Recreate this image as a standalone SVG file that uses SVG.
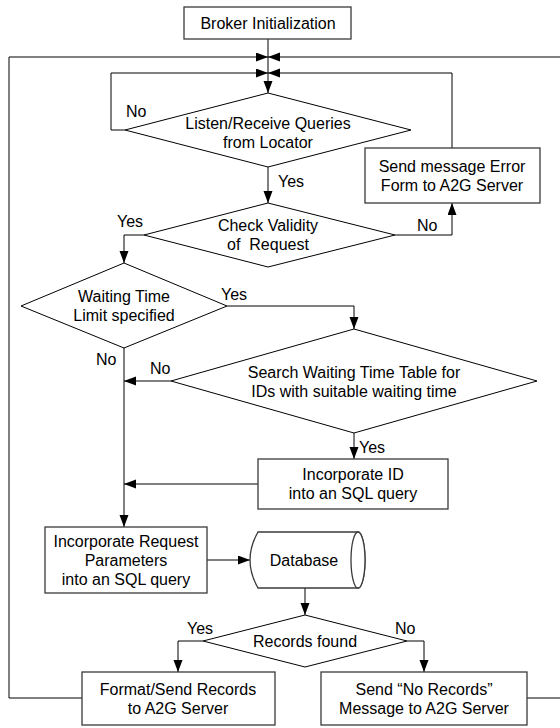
<svg xmlns="http://www.w3.org/2000/svg" width="560" height="728" viewBox="0 0 560 728">
<defs>
<marker id="ah" markerUnits="userSpaceOnUse" markerWidth="12" markerHeight="10" refX="12" refY="4.5" orient="auto">
<path d="M0,0 L12,4.5 L0,9 z" fill="#000"/>
</marker>
<style>
.box{fill:#fff;stroke:#3a3a3a;stroke-width:1.3}
.dia{fill:#fff;stroke:#000;stroke-width:1}
.ln{fill:none;stroke:#000;stroke-width:1}
.arr{fill:none;stroke:#000;stroke-width:1;marker-end:url(#ah)}
text{font-family:"Liberation Sans",Arial,sans-serif;font-size:16px;fill:#000}
.c{text-anchor:middle}
</style>
</defs>
<rect width="560" height="728" fill="#fff"/>
<g id="connectors">
<path class="arr" d="M268,39 V93"/>
<path class="arr" d="M9,698 H82 M9,698 V57 H268"/>
<path class="arr" d="M527,698 H561 V57 H268"/>
<path class="arr" d="M125,130 H111 V73 H268"/>
<path class="arr" d="M452,148 V73 H268"/>
<path class="arr" d="M268,167 V203"/>
<path class="arr" d="M395,235 H452 V203"/>
<path class="arr" d="M144,235 H124 V263"/>
<path class="arr" d="M227,306 H354 V329"/>
<path class="arr" d="M124,348 V527"/>
<path class="arr" d="M171,381 H124"/>
<path class="arr" d="M354,433 V459"/>
<path class="arr" d="M258,484 H124"/>
<path class="arr" d="M207,560 H250"/>
<path class="arr" d="M305,588 V615"/>
<path class="arr" d="M203,641 H178 V672"/>
<path class="arr" d="M407,641 H424 V672"/>
<text x="126" y="117">No</text>
<text x="278" y="187">Yes</text>
<text x="117" y="227">Yes</text>
<text x="417" y="231">No</text>
<text x="221" y="300">Yes</text>
<text x="96" y="365">No</text>
<text x="150" y="374">No</text>
<text x="359" y="453">Yes</text>
<text x="187" y="634">Yes</text>
<text x="395" y="634">No</text>
</g>
<g id="broker">
<rect class="box" x="184" y="7" width="167" height="32"/>
<text class="c" x="268" y="29">Broker Initialization</text>
</g>
<g id="listen">
<path class="dia" d="M268,93 L411,130 L268,167 L125,130 Z"/>
<text class="c" x="268" y="129">Listen/Receive Queries</text>
<text class="c" x="268" y="148">from Locator</text>
</g>
<g id="senderror">
<rect class="box" x="365" y="148" width="175" height="55"/>
<text class="c" x="452" y="172">Send message Error</text>
<text class="c" x="452" y="191">Form to A2G Server</text>
</g>
<g id="check">
<path class="dia" d="M268,203 L395,235 L268,267 L144,235 Z"/>
<text class="c" x="268" y="231">Check Validity</text>
<text class="c" x="268" y="250" xml:space="preserve">of  Request</text>
</g>
<g id="waiting">
<path class="dia" d="M124,263 L227,306 L124,348 L21,306 Z"/>
<text class="c" x="124" y="302">Waiting Time</text>
<text class="c" x="124" y="321">Limit specified</text>
</g>
<g id="search">
<path class="dia" d="M354,329 L537,381 L354,433 L171,381 Z"/>
<text class="c" x="354" y="378">Search Waiting Time Table for</text>
<text class="c" x="354" y="397">IDs with suitable waiting time</text>
</g>
<g id="incid">
<rect class="box" x="258" y="459" width="190" height="50"/>
<text class="c" x="353" y="480">Incorporate ID</text>
<text class="c" x="353" y="499">into an SQL query</text>
</g>
<g id="increq">
<rect class="box" x="45" y="527" width="162" height="66"/>
<text class="c" x="126" y="547">Incorporate Request</text>
<text class="c" x="126" y="566">Parameters</text>
<text class="c" x="126" y="585">into an SQL query</text>
</g>
<g id="database">
<path class="box" d="M258,532 H358 A7,28 0 0 1 358,588 H258 Q242,560 258,532 Z"/>
<ellipse class="box" cx="358" cy="560" rx="7" ry="28"/>
<text class="c" x="304" y="566">Database</text>
</g>
<g id="records">
<path class="dia" d="M305,615 L407,641 L305,667 L203,641 Z"/>
<text class="c" x="305" y="647">Records found</text>
</g>
<g id="format">
<rect class="box" x="82" y="672" width="193" height="53"/>
<text class="c" x="178" y="695">Format/Send Records</text>
<text class="c" x="178" y="714">to A2G Server</text>
</g>
<g id="norecords">
<rect class="box" x="321" y="672" width="206" height="53"/>
<text class="c" x="424" y="695">Send “No Records”</text>
<text class="c" x="424" y="714">Message to A2G Server</text>
</g>
</svg>
